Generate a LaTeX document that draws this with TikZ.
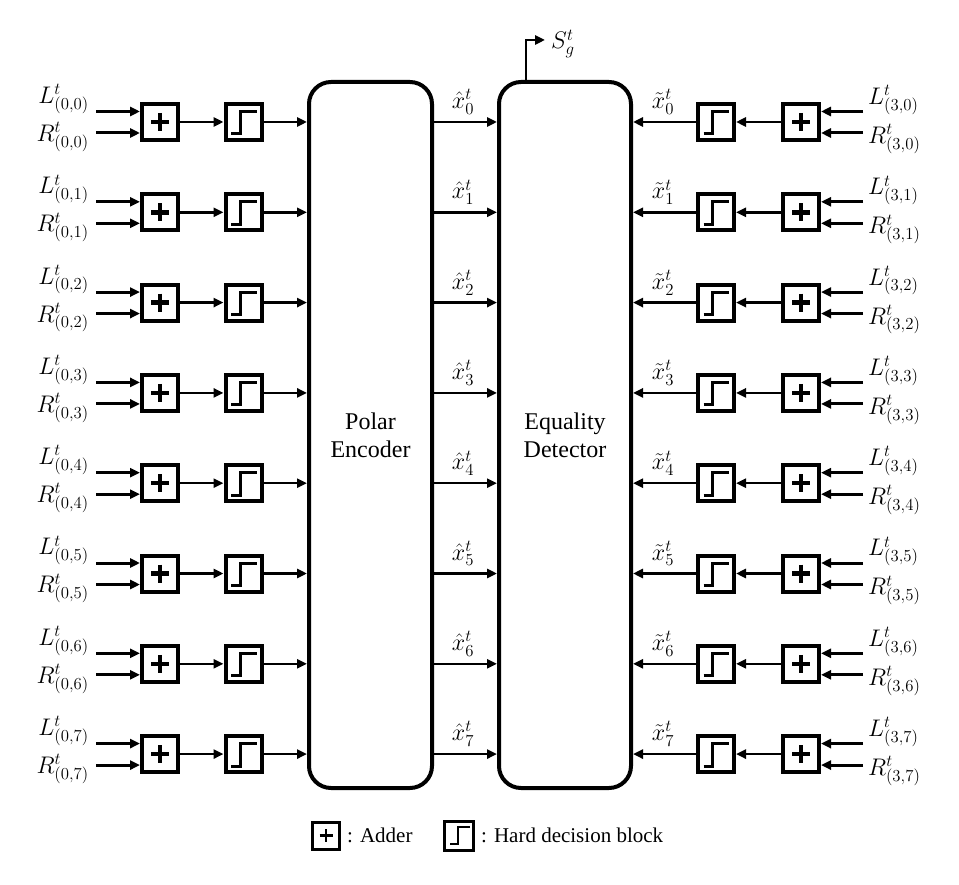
\RequirePackage{fix-cm}
\documentclass[tikz,border=0pt]{standalone}
\usepackage{fontspec}
\setmainfont{Liberation Serif}
\usetikzlibrary{arrows.meta,calc}
\begin{document}
\begin{tikzpicture}[x=1pt,y=-1pt,
  conn/.style={line width=2.5pt,-{Triangle[length=10pt,width=9pt]}},
  inarrow/.style={line width=3pt,-{Triangle[length=10pt,width=9pt]}},
  sbox/.style={draw,line width=4pt,minimum width=36pt,minimum height=36pt,inner sep=0pt,fill=white},
  legbox/.style={draw,line width=3pt,minimum width=#1,minimum height=#1,inner sep=0pt,fill=white},
  bigbox/.style={draw,line width=4pt,rounded corners=22pt,inner sep=0pt,align=center,fill=white,
    font=\fontsize{24}{28}\selectfont},
  plusline/.style={line width=4.5pt},
  stepline/.style={line width=3pt},
  lab/.style={inner sep=0pt,font=\fontsize{24}{28}\selectfont},
  legtext/.style={inner sep=0pt,anchor=base west,font=\fontsize{21}{25}\selectfont},
]
\useasboundingbox (0,0) rectangle (959,885);

% big blocks
\node[bigbox,minimum width=123pt,minimum height=706pt] (enc) at (370.5,435) {Polar\\Encoder};
\node[bigbox,minimum width=132pt,minimum height=706pt] (ed) at (565,435) {Equality\\Detector};

\foreach \i in {0,...,7}{
  \pgfmathsetmacro\y{122+90.3*\i}
  % left chain
  \node[sbox] (la\i) at (160,\y) {};
  \node[sbox] (lh\i) at (243.5,\y) {};
  \draw[plusline] ($(la\i)+(-9,0)$) -- ($(la\i)+(9,0)$);
  \draw[plusline] ($(la\i)+(0,-9)$) -- ($(la\i)+(0,9)$);
  \draw[stepline] ($(lh\i)+(-12.5,12)$) -- ++(9,0) -- ++(0,-22.3) -- ++(16.7,0);
  \node[lab,anchor=east] (lL\i) at (89,\y-23) {$L^{t}_{(0,\i)}$};
  \node[lab,anchor=east] (lR\i) at (89,\y+15) {$R^{t}_{(0,\i)}$};
  \coordinate (lia\i) at (96,\y-10.5);
  \coordinate (lib\i) at (96,\y+11);
  \draw[inarrow] (lia\i) -- (la\i.west |- lia\i);
  \draw[inarrow] (lib\i) -- (la\i.west |- lib\i);
  \draw[conn] (la\i) -- (lh\i);
  \draw[conn] (lh\i) -- (lh\i -| enc.west);
  % middle
  \draw[conn] (enc.east |- lh\i) -- (ed.west |- lh\i);
  \node[lab] (xh\i) at (463,\y-20) {$\hat{x}^{t}_{\i}$};
  % right chain
  \node[sbox] (ra\i) at (801,\y) {};
  \node[sbox] (rh\i) at (716,\y) {};
  \draw[plusline] ($(ra\i)+(-9,0)$) -- ($(ra\i)+(9,0)$);
  \draw[plusline] ($(ra\i)+(0,-9)$) -- ($(ra\i)+(0,9)$);
  \draw[stepline] ($(rh\i)+(-12.5,12)$) -- ++(9,0) -- ++(0,-22.3) -- ++(16.7,0);
  \node[lab,anchor=west] (rL\i) at (868,\y-22) {$L^{t}_{(3,\i)}$};
  \node[lab,anchor=west] (rR\i) at (868,\y+17) {$R^{t}_{(3,\i)}$};
  \coordinate (ria\i) at (863,\y-10.5);
  \coordinate (rib\i) at (863,\y+11);
  \draw[inarrow] (ria\i) -- (ra\i.east |- ria\i);
  \draw[inarrow] (rib\i) -- (ra\i.east |- rib\i);
  \draw[conn] (ra\i) -- (rh\i);
  \draw[conn] (rh\i) -- (rh\i -| ed.east);
  \node[lab] (xt\i) at (663,\y-20) {$\tilde{x}^{t}_{\i}$};
}

% S_g output
\coordinate (sg) at (545,40);
\draw[conn] ([xshift=-39pt]ed.north) |- (sg);
\node[lab,anchor=west] (sgl) at (551,44) {$S^{t}_{g}$};

% legend
\node[legbox=27pt] (legA) at (326,835.5) {};
\draw[line width=2.5pt] ($(legA)+(-6.5,0)$) -- ($(legA)+(6.5,0)$);
\draw[line width=2.5pt] ($(legA)+(0,-6.5)$) -- ($(legA)+(0,6.5)$);
\node[legtext] (legAt) at (347,842) {: Adder};
\node[legbox=29pt] (legH) at (459,835.5) {};
\draw[line width=2.5pt] ($(legH)+(-9,8.5)$) -- ++(8,0) -- ++(0,-17) -- ++(12,0);
\node[legtext] (legHt) at (481,842) {: Hard decision block};
\end{tikzpicture}
\end{document}
